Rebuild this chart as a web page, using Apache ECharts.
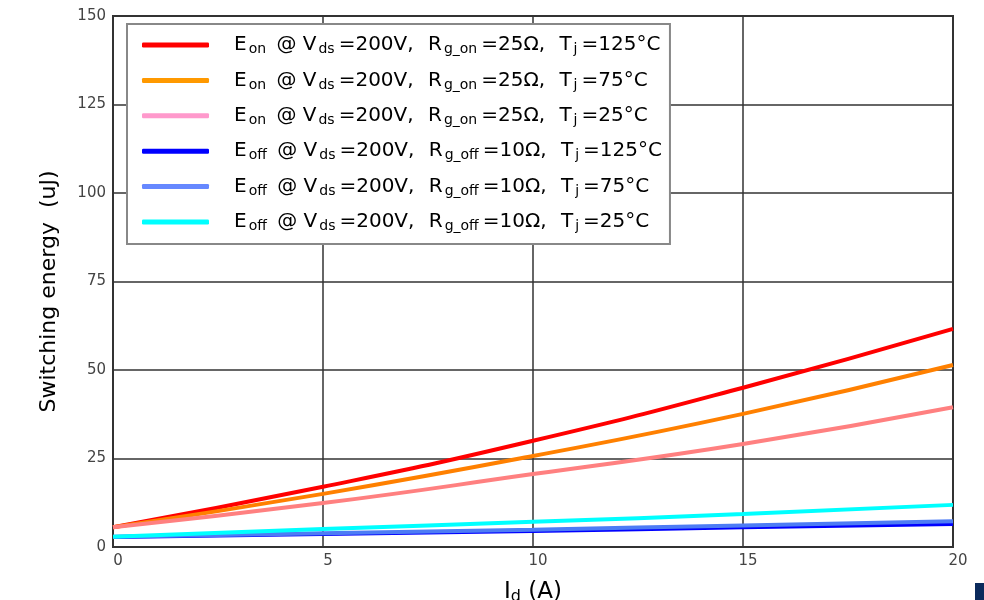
<!DOCTYPE html>
<html>
<head>
<meta charset="utf-8">
<script src="https://cdn.jsdelivr.net/npm/echarts@6/dist/echarts.min.js"></script>
<style>
  html, body { margin: 0; padding: 0; background: #fff; }
  #chart { width: 984px; height: 600px; }
</style>
</head>
<body>
<div id="chart"></div>
<script>
// drain current Id (A)
var currents = [0, 5, 10, 15, 20];

// switching energy (uJ)
var eon125 = [5.6, 17.0, 30.0, 45.0, 61.6];
var eon75 = [5.6, 15.0, 25.7, 37.6, 51.4];
var eon25 = [5.6, 12.4, 20.6, 29.1, 39.5];
var eoff125 = [2.8, 3.7, 4.5, 5.6, 6.5];
var eoff75 = [2.9, 3.9, 4.9, 6.1, 7.3];
var eoff25 = [2.9, 5.1, 7.1, 9.3, 11.9];

var seriesNames = ["Eon 125", "Eon 75", "Eon 25", "Eoff 125", "Eoff 75", "Eoff 25"];
// legend text with subscripts (rich text), {w| } is a slightly wider space
var legendLabels = [
  "E{s|on} @ V{s|ds}=200V,{w| }R{s|g_on}=25Ω,{w| }T{s|j}=125°C",
  "E{s|on} @ V{s|ds}=200V,{w| }R{s|g_on}=25Ω,{w| }T{s|j}=75°C",
  "E{s|on} @ V{s|ds}=200V,{w| }R{s|g_on}=25Ω,{w| }T{s|j}=25°C",
  "E{s|off} @ V{s|ds}=200V,{w| }R{s|g_off}=10Ω,{w| }T{s|j}=125°C",
  "E{s|off} @ V{s|ds}=200V,{w| }R{s|g_off}=10Ω,{w| }T{s|j}=75°C",
  "E{s|off} @ V{s|ds}=200V,{w| }R{s|g_off}=10Ω,{w| }T{s|j}=25°C"
];
var lineColors = ["#ff0000", "#ff8000", "#ff8080", "#0000ff", "#4d7cf5", "#00ffff"];
var iconColors = ["#ff0000", "#ff9900", "#ff99cc", "#0000ff", "#6688ff", "#00ffff"];
var allValues = [eon125, eon75, eon25, eoff125, eoff75, eoff25];

function pairs(vals) {
  var out = [];
  for (var i = 0; i < currents.length; i++) {
    out.push([currents[i], vals[i]]);
  }
  return out;
}

var chart = echarts.init(document.getElementById("chart"));

var series = [];
var legendData = [];
for (var k = 0; k < seriesNames.length; k++) {
  series.push({
    name: seriesNames[k],
    type: "line",
    data: pairs(allValues[k]),
    smooth: true,
    symbol: "none",
    lineStyle: { color: lineColors[k], width: 4 },
    itemStyle: { color: lineColors[k] }
  });
  legendData.push({ name: seriesNames[k], itemStyle: { color: iconColors[k] } });
}

var font = "'DejaVu Sans', 'Liberation Sans', sans-serif";

var option = {
  animation: false,
  backgroundColor: "#fff",
  grid: {
    left: 113,
    right: 31,
    top: 16,
    bottom: 53,
    outerBoundsMode: "none",
    show: true,
    borderColor: "#333",
    borderWidth: 2
  },
  legend: {
    orient: "vertical",
    left: 127,
    top: 24,
    data: legendData,
    icon: "roundRect",
    itemWidth: 67,
    itemHeight: 5,
    itemGap: 11.4,
    padding: [9, 8, 10, 15],
    backgroundColor: "#fff",
    borderColor: "#888",
    borderWidth: 2,
    borderRadius: 0,
    formatter: function (name) {
      return legendLabels[seriesNames.indexOf(name)];
    },
    textStyle: {
      fontFamily: font,
      fontSize: 20,
      color: "#000",
      lineHeight: 24,
      padding: [0, 0, 0, 20],
      rich: {
        s: { fontFamily: font, fontSize: 14, lineHeight: 14, padding: [9, 4, 0, 2], color: "#000" },
        w: { fontFamily: font, fontSize: 20, lineHeight: 24, padding: [0, 4, 0, 4] }
      }
    }
  },
  xAxis: {
    type: "value",
    min: 0,
    max: 20,
    interval: 5,
    name: "I{s|d} (A)",
    nameLocation: "middle",
    nameGap: 32,
    nameTextStyle: {
      fontFamily: font,
      fontSize: 23,
      color: "#000",
      lineHeight: 26,
      rich: { s: { fontFamily: font, fontSize: 16, lineHeight: 16, padding: [10, 0, 0, 0], color: "#000" } }
    },
    axisLine: { show: true, lineStyle: { color: "#333", width: 2 } },
    axisTick: { show: false },
    axisLabel: { fontFamily: font, fontSize: 15, color: "#444", margin: 7, padding: [0, 0, 0, 10] },
    splitLine: { show: true, lineStyle: { color: "#333", width: 1.5 } }
  },
  yAxis: {
    type: "value",
    min: 0,
    max: 150,
    interval: 25,
    name: "Switching energy  (uJ)",
    nameLocation: "middle",
    nameGap: 53,
    nameTextStyle: { fontFamily: font, fontSize: 22, color: "#000", padding: [0, 20, 0, 0] },
    axisLine: { show: true, lineStyle: { color: "#333", width: 2 } },
    axisTick: { show: false },
    axisLabel: { fontFamily: font, fontSize: 15, color: "#444", margin: 7 },
    splitLine: { show: true, lineStyle: { color: "#333", width: 1.5 } }
  },
  graphic: [
    {
      type: "rect",
      right: 0,
      bottom: 0,
      shape: { width: 9, height: 17 },
      style: { fill: "#0b2a5c" }
    }
  ],
  series: series
};

chart.setOption(option);
</script>
</body>
</html>
